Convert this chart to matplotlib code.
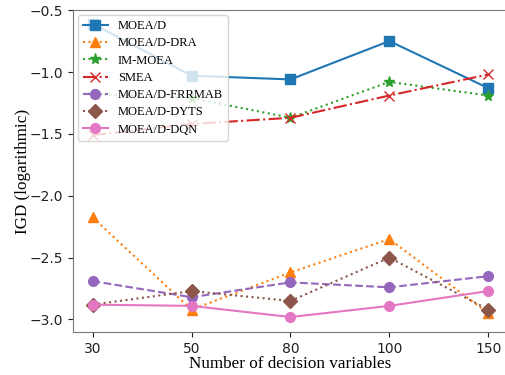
import numpy as np
import matplotlib
matplotlib.use("Agg")
import matplotlib.pyplot as plt

# data
n_vars = ["30", "50", "80", "100", "150"]
moead = [-0.61, -1.03, -1.06, -0.75, -1.13]
moead_dra = [-2.175, -2.92, -2.62, -2.35, -2.95]
im_moea = [-1.18, -1.21, -1.37, -1.08, -1.19]
smea = [-1.51, -1.42, -1.37, -1.19, -1.02]
moead_frrmab = [-2.69, -2.82, -2.70, -2.74, -2.65]
moead_dyts = [-2.88, -2.77, -2.85, -2.50, -2.92]
moead_dqn = [-2.88, -2.89, -2.98, -2.89, -2.77]

series = [
    ("MOEA/D", moead, "s", "-"),
    ("MOEA/D-DRA", moead_dra, "^", ":"),
    ("IM-MOEA", im_moea, "*", ":"),
    ("SMEA", smea, "x", "-."),
    ("MOEA/D-FRRMAB", moead_frrmab, "o", "--"),
    ("MOEA/D-DYTS", moead_dyts, "D", ":"),
    ("MOEA/D-DQN", moead_dqn, "o", "-"),
]

serif = "Liberation Serif"

fig = plt.figure(figsize=(5.06, 3.75), dpi=100)
ax = fig.add_axes([0.144, 0.115, 0.86, 0.858])

x = np.arange(len(n_vars))
for i, (name, vals, mk, ls) in enumerate(series):
    ax.plot(x, vals, linestyle=ls, marker=mk, color=f"C{i}", label=name,
            markersize=7 if mk != "*" else 8, linewidth=1.5)

ax.set_xticks(x)
ax.set_xticklabels(n_vars)
ax.set_xlim(-0.2, 4.2)
ax.set_ylim(-3.1, -0.5)
ax.set_yticks([-3.0, -2.5, -2.0, -1.5, -1.0, -0.5])
ax.tick_params(labelsize=10, colors="#222222")
for sp in ax.spines.values():
    sp.set_color("#777777")
ax.spines["right"].set_visible(False)  # cut off at the image edge in the original

ax.set_xlabel("Number of decision variables", fontsize=12.3, family=serif, labelpad=0)
ax.set_ylabel("IGD (logarithmic)", fontsize=12.3, family=serif, labelpad=-1)
ax.legend(loc="upper left", prop={"family": serif, "size": 9},
          handlelength=2.0, borderaxespad=0.4, labelspacing=0.42)

fig.savefig("out.png", dpi=100)
